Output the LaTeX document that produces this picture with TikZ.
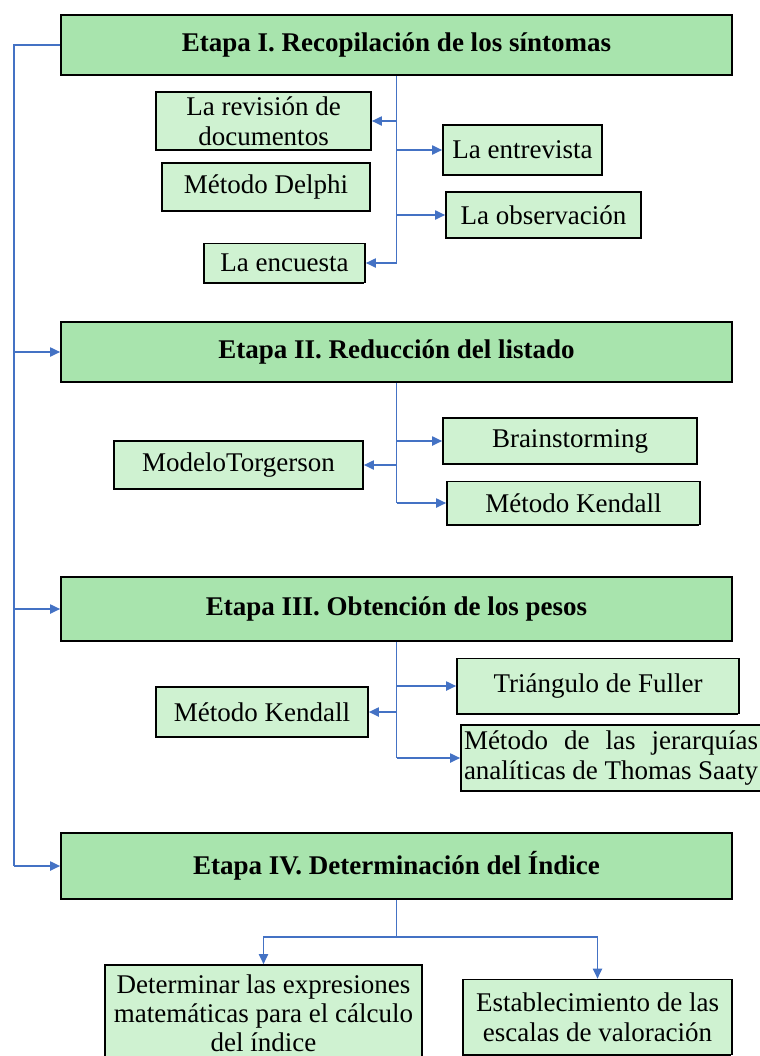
\documentclass[tikz,border=0pt]{standalone}
\usepackage{fontspec}
\setmainfont{Liberation Serif}
\usetikzlibrary{arrows.meta,shadows}
\definecolor{etapafill}{RGB}{168,228,173}
\definecolor{tecfill}{RGB}{207,242,209}
\definecolor{linkblue}{RGB}{68,114,196}
\newcommand{\diagfont}{\fontsize{13.5pt}{15pt}\selectfont}
\tikzset{
	caja/.style={draw=black, line width=0.8pt, inner sep=0pt, align=center,
		general shadow={shadow xshift=-0.7pt, shadow yshift=-0.7pt, fill=black}},
	etapa/.style={caja, fill=etapafill, minimum width=335.5pt, font=\diagfont\bfseries},
	tecnica/.style={caja, fill=tecfill, font=\diagfont},
	link/.style={draw=linkblue, line width=0.9pt},
	arr/.style={link, -{Triangle[length=5pt,width=4.5pt]}}
}

\begin{document}
\begin{tikzpicture}[x=0.5pt, y=-0.5pt]
		%%%%% START %%%%%
		\useasboundingbox (0,0) rectangle (760,1056);
		
		% etapas
		\node[etapa, minimum height=30pt] (e1) at (396.5,45) {Etapa I. Recopilación de los síntomas};
		\node[etapa, minimum height=30pt] (e2) at (396.5,352) {Etapa II. Reducción del listado};
		\node[etapa, minimum height=32pt] (e3) at (396.5,609) {Etapa III. Obtención de los pesos};
		\node[etapa, minimum height=33pt] (e4) at (396.5,866) {Etapa IV. Determinación del Índice};
		
		% etapa I
		\node[tecnica, minimum width=107.5pt, minimum height=29pt] (rev) at (263.5,121) {La revisión de\\documentos};
		\node[tecnica, minimum width=79.5pt, minimum height=25pt] (ent) at (522.5,150) {La entrevista};
		\node[tecnica, minimum width=104pt, minimum height=24pt] (del) at (266,187) {Método Delphi};
		\node[tecnica, minimum width=97.5pt, minimum height=23pt] (obs) at (543.5,215) {La observación};
		\node[tecnica, minimum width=80.5pt, minimum height=19.5pt] (enc) at (284.5,263) {La encuesta};
		
		% etapa II
		\node[tecnica, minimum width=127pt, minimum height=23pt] (brain) at (570,441) {Brainstorming};
		\node[tecnica, minimum width=124.5pt, minimum height=24pt] (torg) at (238.5,465) {ModeloTorgerson};
		\node[tecnica, minimum width=126.5pt, minimum height=21.5pt] (ken1) at (573.5,503) {Método Kendall};
		
		% etapa III
		\node[tecnica, minimum width=141pt, minimum height=27.5pt] (fuller) at (598,686) {Triángulo de Fuller};
		\node[tecnica, minimum width=106pt, minimum height=25pt] (ken2) at (262,712) {Método Kendall};
		\node[tecnica, minimum width=150pt, minimum height=33pt, text width=147pt, align=justify] (saaty) at (611,758)
			{Método de las jerarquías\linebreak analíticas de Thomas Saaty};
		
		% etapa IV
		\node[tecnica, minimum width=158.5pt, minimum height=48pt,
			font=\fontsize{13.5pt}{14.6pt}\selectfont] (det) at (263.5,1013)
			{Determinar las expresiones\\matemáticas para el cálculo\\del índice};
		\node[tecnica, minimum width=134.5pt, minimum height=37.5pt] (est) at (597.5,1017)
			{Establecimiento de las\\escalas de valoración};
		
		% eje izquierdo
		\coordinate (eje) at (14,45);
		\draw[link] (e1.west) -- (eje) -- (eje |- e4.west);
		\draw[arr] (eje |- e2.west) -- (e2.west);
		\draw[arr] (eje |- e3.west) -- (e3.west);
		\draw[arr] (eje |- e4.west) -- (e4.west);
		
		% ramas etapa I
		\draw[link] (e1.south) -- (e1.south |- enc.east);
		\draw[arr] (e1.south |- rev.east) -- (rev.east);
		\draw[arr] (e1.south |- ent.west) -- (ent.west);
		\draw[arr] (e1.south |- obs.west) -- (obs.west);
		\draw[arr] (e1.south |- enc.east) -- (enc.east);
		
		% ramas etapa II
		\draw[link] (e2.south) -- (e2.south |- ken1.west);
		\draw[arr] (e2.south |- brain.west) -- (brain.west);
		\draw[arr] (e2.south |- torg.east) -- (torg.east);
		\draw[arr] (e2.south |- ken1.west) -- (ken1.west);
		
		% ramas etapa III
		\draw[link] (e3.south) -- (e3.south |- saaty.west);
		\draw[arr] (e3.south |- fuller.west) -- (fuller.west);
		\draw[arr] (e3.south |- ken2.east) -- (ken2.east);
		\draw[arr] (e3.south |- saaty.west) -- (saaty.west);
		
		% ramas etapa IV
		\coordinate (cruce) at (396.5,937);
		\draw[link] (e4.south) -- (cruce);
		\draw[arr] (cruce) -| (det.north);
		\draw[arr] (cruce) -| (est.north);
		
		%%%%% END %%%%%
\end{tikzpicture}
\end{document}
